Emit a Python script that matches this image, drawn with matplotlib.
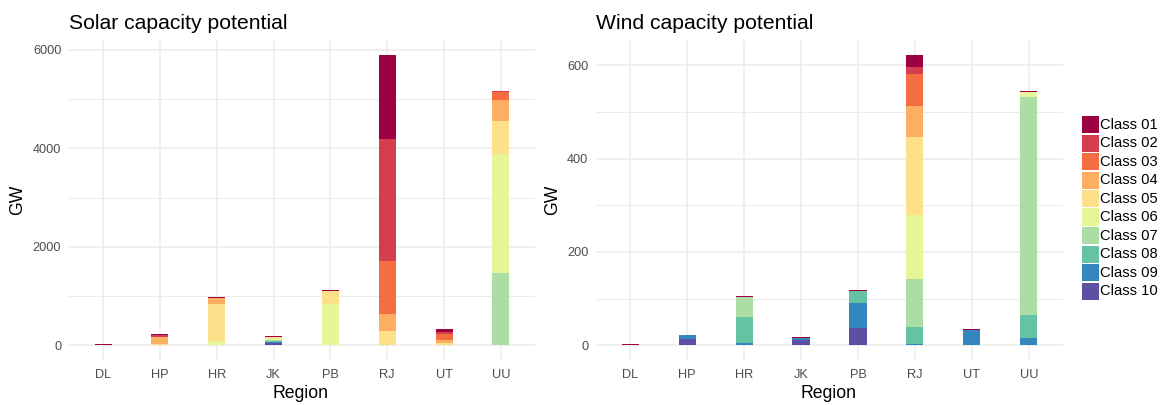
import matplotlib
matplotlib.use("Agg")
import matplotlib.pyplot as plt
from matplotlib.patches import Rectangle
import numpy as np

plt.rcParams['font.family'] = ['Liberation Sans', 'DejaVu Sans']

regions = ["DL", "HP", "HR", "JK", "PB", "RJ", "UT", "UU"]
classes = ["Class 01", "Class 02", "Class 03", "Class 04", "Class 05",
           "Class 06", "Class 07", "Class 08", "Class 09", "Class 10"]
colors = ["#9E0142", "#D53E4F", "#F46D43", "#FDAE61", "#FEE08B",
          "#E6F598", "#ABDDA4", "#66C2A5", "#3288BD", "#5E4FA2"]

# GW by class (rows) and region (columns)
solar = {
    "Class 01": [20, 20, 20, 15, 21, 1710, 61, 5],
    "Class 02": [0, 34, 7, 0, 0, 2460, 41, 15],
    "Class 03": [0, 0, 0, 0, 0, 1080, 115, 162],
    "Class 04": [0, 142, 122, 0, 0, 346, 61, 428],
    "Class 05": [0, 27, 751, 50, 264, 290, 53, 662],
    "Class 06": [0, 0, 87, 12, 826, 5, 0, 2422],
    "Class 07": [0, 0, 0, 25, 6, 0, 0, 1468],
    "Class 08": [0, 0, 0, 20, 0, 0, 0, 0],
    "Class 09": [0, 0, 0, 14, 0, 0, 0, 0],
    "Class 10": [0, 0, 0, 55, 0, 0, 0, 0],
}

wind = {
    "Class 01": [2, 2, 2, 2, 2, 24, 2, 2],
    "Class 02": [0, 0, 0, 0, 0, 17, 0, 0],
    "Class 03": [0, 0, 0, 0, 0, 67, 0, 0],
    "Class 04": [0, 0, 0, 0, 0, 67, 0, 0],
    "Class 05": [0, 0, 0, 0, 0, 167, 0, 0],
    "Class 06": [0, 0, 0, 0, 0, 136, 0, 11],
    "Class 07": [0, 0, 42, 0, 0, 103, 0, 467],
    "Class 08": [0, 0, 57, 0, 26, 38, 0, 49],
    "Class 09": [0, 7, 3, 4, 54, 2, 32, 16],
    "Class 10": [0, 14, 1, 12, 36, 0, 0, 0],
}

W, H = 1166, 405
fig = plt.figure(figsize=(W / 100, H / 100), dpi=100)


def px_axes(x0, x1, y0, y1):
    return fig.add_axes([x0 / W, 1 - y1 / H, (x1 - x0) / W, (y1 - y0) / H])


def stacked(ax, data, major, minor, title, title_x):
    x = np.arange(1, len(regions) + 1)
    bottom = np.zeros(len(regions))
    # lowest class at the bottom, Class 01 on top
    for cls, col in reversed(list(zip(classes, colors))):
        vals = np.array(data[cls], dtype=float)
        ax.bar(x, vals, width=0.3, bottom=bottom, color=col, linewidth=0, zorder=3)
        bottom += vals
    top = bottom.max()
    ax.set_ylim(-0.05 * top, 1.05 * top)
    ax.set_xlim(0.4, len(regions) + 0.6)
    ax.set_xticks(x)
    ax.set_xticklabels(regions)
    ax.set_yticks(major)
    ax.set_yticks(minor, minor=True)
    ax.grid(True, which="major", color="#EBEBEB", linewidth=1.1, zorder=0)
    ax.grid(True, which="minor", axis="y", color="#EBEBEB", linewidth=0.7, zorder=0)
    ax.set_axisbelow(True)
    for s in ax.spines.values():
        s.set_visible(False)
    ax.tick_params(axis="both", which="both", length=0, labelsize=9.2,
                   labelcolor="#4D4D4D")
    ax.tick_params(axis="x", pad=6.5)
    ax.tick_params(axis="y", pad=5.5)
    fig.text(title_x / W, 1 - 29 / H, title, fontsize=15.2, color="black",
             ha="left", va="baseline")


ax1 = px_axes(69, 535, 40.8, 359.8)
stacked(ax1, solar, [0, 2000, 4000, 6000], [1000, 3000, 5000],
        "Solar capacity potential", 69)
fig.text(300 / W, 1 - 393 / H, "Region", fontsize=12.7, ha="center", va="center")
fig.text(18 / W, 1 - 200 / H, "GW", fontsize=12.7, ha="center", va="center",
         rotation=90)

ax2 = px_axes(596, 1063, 40.8, 359.8)
stacked(ax2, wind, [0, 200, 400, 600], [100, 300, 500],
        "Wind capacity potential", 596)
fig.text(829 / W, 1 - 393 / H, "Region", fontsize=12.7, ha="center", va="center")
fig.text(553 / W, 1 - 200 / H, "GW", fontsize=12.7, ha="center", va="center",
         rotation=90)

# legend keys
key_x, key_w, key_h, key_y0, step = 1082.3, 17, 17.3, 116, 18.5
for i, (cls, col) in enumerate(zip(classes, colors)):
    y = key_y0 + i * step
    fig.add_artist(Rectangle((key_x / W, 1 - (y + key_h) / H), key_w / W, key_h / H,
                             transform=fig.transFigure, facecolor=col,
                             edgecolor="none"))
    fig.text(1100 / W, 1 - (y + key_h / 2) / H, cls, fontsize=10.6, ha="left",
             va="center", color="black")

fig.savefig("out.png", dpi=100)
